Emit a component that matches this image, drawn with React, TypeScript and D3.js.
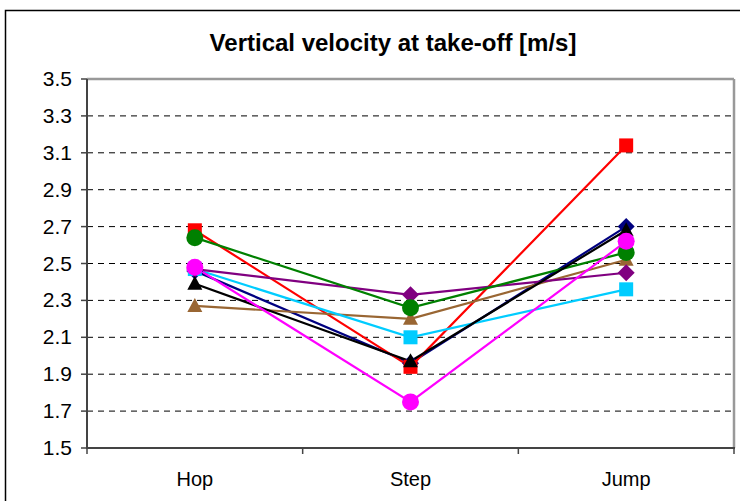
import React from "react";
import * as d3 from "d3";

const categories = ["Hop", "Step", "Jump"];
const yTicks = [1.5, 1.7, 1.9, 2.1, 2.3, 2.5, 2.7, 2.9, 3.1, 3.3, 3.5];

const seriesNames = ["S1", "S2", "S3", "S4", "S5", "S6", "S7", "S8"];
const seriesColors = ["#000080", "#FF0000", "#996633", "#00CCFF", "#800080", "#008000", "#000000", "#FF00FF"];
const seriesShapes = ["diamond", "square", "triangle", "square", "diamond", "circle", "triangle", "circle"];
const navyValues = [2.46, 1.96, 2.70];
const redValues = [2.68, 1.94, 3.14];
const brownValues = [2.27, 2.20, 2.52];
const cyanValues = [2.47, 2.10, 2.36];
const purpleValues = [2.47, 2.33, 2.45];
const greenValues = [2.64, 2.26, 2.56];
const blackValues = [2.39, 1.97, 2.68];
const magentaValues = [2.48, 1.75, 2.62];
const seriesValues = [navyValues, redValues, brownValues, cyanValues, purpleValues, greenValues, blackValues, magentaValues];

const W = 740, H = 501;
const L = 87, R = 734, T = 79, B = 448;

export default function App() {
  const x = d3.scaleBand().domain(categories).range([L, R]);
  const y = d3.scaleLinear().domain([1.5, 3.5]).range([B, T]);
  const cx = (c: string) => (x(c) as number) + x.bandwidth() / 2;
  const line = d3.line<[number, number]>().x((d) => d[0]).y((d) => d[1]);

  const marker = (shape: string, px: number, py: number, color: string, key: string) => {
    if (shape === "square") return <rect key={key} x={px - 7} y={py - 7} width={14} height={14} fill={color} />;
    if (shape === "circle") return <circle key={key} cx={px} cy={py} r={8.5} fill={color} />;
    if (shape === "diamond")
      return <path key={key} d={`M${px},${py - 8.5}L${px + 8.5},${py}L${px},${py + 8.5}L${px - 8.5},${py}Z`} fill={color} />;
    return <path key={key} d={`M${px},${py - 8}L${px + 7.5},${py + 6}L${px - 7.5},${py + 6}Z`} fill={color} />;
  };

  return (
    <svg width={W} height={H} style={{ position: "fixed", left: 0, top: 0, background: "#fff" }} fontFamily="Liberation Sans, Arial, sans-serif">
      <rect x={5.5} y={10.5} width={W} height={H} fill="#fff" stroke="#000" strokeWidth={1.5} />
      <text x={393} y={51} textAnchor="middle" fontSize={24} fontWeight="bold">Vertical velocity at take-off [m/s]</text>
      {yTicks.filter((t) => t > 1.5 && t < 3.5).map((t) => (
        <line key={"g" + t} x1={L} x2={R} y1={y(t)} y2={y(t)} stroke="#000" strokeDasharray="6,5" strokeWidth={1} />
      ))}
      <line x1={L} x2={R} y1={T} y2={T} stroke="#999" strokeWidth={2.5} />
      <line x1={R} x2={R} y1={T} y2={B} stroke="#999" strokeWidth={2.5} />
      <line x1={L} x2={L} y1={T} y2={B + 1} stroke="#444" strokeWidth={2} />
      <line x1={L} x2={R + 1} y1={B} y2={B} stroke="#444" strokeWidth={2} />
      {yTicks.map((t) => (
        <g key={"t" + t}>
          <line x1={L - 6} x2={L} y1={y(t)} y2={y(t)} stroke="#444" strokeWidth={1.5} />
          <text x={72} y={y(t) + 7} textAnchor="end" fontSize={21}>{t.toFixed(1)}</text>
        </g>
      ))}
      {[...categories.map((c) => x(c) as number), R].map((v, i) => (
        <line key={"xt" + i} x1={v} x2={v} y1={B} y2={B + 6} stroke="#444" strokeWidth={1.5} />
      ))}
      {categories.map((c) => (
        <text key={"c" + c} x={cx(c)} y={486} textAnchor="middle" fontSize={20}>{c}</text>
      ))}
      {seriesValues.map((vals, si) => (
        <g key={seriesNames[si]}>
          <path d={line(vals.map((v, i) => [cx(categories[i]), y(v)] as [number, number])) || ""} fill="none" stroke={seriesColors[si]} strokeWidth={2.2} />
        </g>
      ))}
      {seriesValues.map((vals, si) => (
        <g key={seriesNames[si] + "m"}>
          {vals.map((v, i) => marker(seriesShapes[si], cx(categories[i]), y(v), seriesColors[si], si + "-" + i))}
        </g>
      ))}
    </svg>
  );
}
